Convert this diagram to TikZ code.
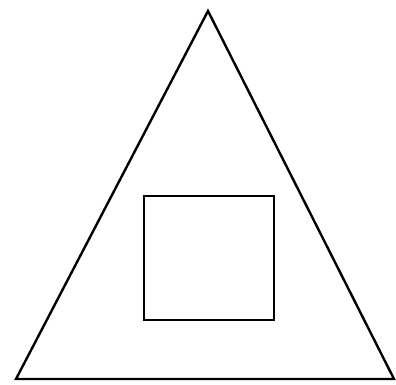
\documentclass[tikz,border=0pt]{standalone}
\begin{document}
\begin{tikzpicture}[x=1pt,y=-1pt,shape line/.style={draw=black,line width=2.4pt,line join=miter}]
\useasboundingbox[fill=white] (0,0) rectangle (396,385);
\coordinate (apex) at (208,11);
\coordinate (bl) at (16,379);
\coordinate (br) at (394,379);
\draw[shape line] (apex) -- (bl) -- (br) -- cycle;
\coordinate (sq1) at (144,196);
\coordinate (sq2) at (274,320);
\draw[shape line] (sq1) rectangle (sq2);
\end{tikzpicture}
\end{document}
